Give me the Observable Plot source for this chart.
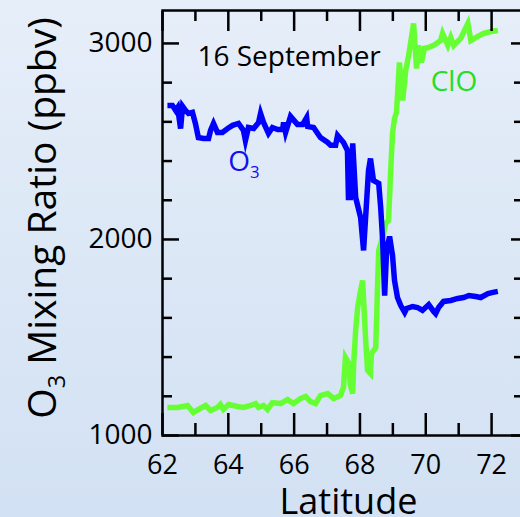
<!DOCTYPE html>
<html><head><meta charset="utf-8">
<script src="https://cdn.jsdelivr.net/npm/d3@7"></script>
<script src="https://cdn.jsdelivr.net/npm/@observablehq/plot@0.6"></script>
<style>
html,body{margin:0;padding:0;}
body{width:520px;height:517px;overflow:hidden;background:linear-gradient(to bottom,#e6eef9,#d2e1f3);font-family:"Open Sans",sans-serif;}
#chart svg{display:block;}
</style></head><body><div id="chart"></div>
<script>
// O3 mixing ratio (ppbv) vs latitude
const o3Lat = [
  62.15,62.30,62.40,62.46,62.55,62.61,62.70,62.79,62.91,63.00,
  63.09,63.25,63.40,63.46,63.55,63.67,63.82,63.98,64.13,64.31,
  64.46,64.52,64.61,64.77,64.92,64.98,65.07,65.22,65.34,65.50,
  65.65,65.68,65.74,65.89,66.10,66.26,66.38,66.41,66.59,66.80,
  67.02,67.11,67.26,67.32,67.50,67.62,67.65,67.71,67.78,67.87,
  68.02,68.11,68.26,68.32,68.41,68.57,68.63,68.69,68.75,68.81,
  68.90,68.99,69.05,69.14,69.24,69.36,69.42,69.60,69.75,69.90,
  70.09,70.24,70.30,70.39,70.54,70.76,70.97,71.15,71.31,71.52,
  71.67,71.89,72.04,72.19];
const o3Val = [
  2684,2684,2658,2673,2566,2679,2658,2643,2648,2592,
  2520,2515,2515,2556,2592,2546,2546,2566,2582,2592,
  2556,2505,2571,2566,2597,2643,2597,2541,2571,2561,
  2561,2597,2546,2628,2587,2587,2622,2577,2571,2520,
  2495,2480,2480,2531,2495,2454,2214,2214,2490,2214,
  2112,1944,2352,2413,2301,2286,2163,1995,1714,1944,
  2015,1918,1791,1704,1663,1628,1648,1658,1653,1638,
  1668,1633,1622,1653,1684,1689,1699,1704,1714,1709,
  1704,1724,1730,1735];
// ClO (same vertical scale) vs latitude
const cloLat = [
  62.15,62.46,62.76,62.94,63.09,63.31,63.46,63.67,63.76,63.85,
  64.01,64.28,64.46,64.68,64.83,64.92,65.07,65.19,65.34,65.59,
  65.80,65.98,66.20,66.35,66.50,66.65,66.80,67.02,67.20,67.41,
  67.50,67.56,67.65,67.71,67.78,67.81,67.87,67.93,68.02,68.08,
  68.17,68.23,68.32,68.35,68.48,68.54,68.57,68.72,68.78,68.87,
  68.93,68.99,69.05,69.11,69.20,69.30,69.39,69.48,69.63,69.72,
  69.78,69.87,69.96,70.09,70.24,70.45,70.51,70.67,70.76,70.85,
  71.06,71.28,71.37,71.58,71.76,71.98,72.19];
const cloVal = [
  1143,1143,1153,1117,1133,1153,1128,1143,1158,1133,
  1158,1148,1143,1153,1163,1143,1153,1133,1168,1163,
  1184,1163,1189,1199,1173,1163,1204,1214,1189,1204,
  1245,1398,1372,1255,1214,1367,1536,1653,1740,1791,
  1500,1332,1316,1418,1449,1791,1944,2031,2082,2097,
  2337,2541,2617,2648,2903,2709,2862,2939,3102,2872,
  2990,2903,2975,2980,2990,3015,3051,2990,3031,2990,
  3026,3102,3015,3036,3051,3061,3066];

const yTicks = [1000, 2000, 3000];
const yMinorTicks = [1200, 1400, 1600, 1800, 2200, 2400, 2600, 2800];
const xTicks = [62, 64, 66, 68, 70, 72];
const xMinorTicks = [63, 65, 67, 69, 71];

const annotLabels = ["16 September", "ClO", "O3"];
const annotLat = [63.06, 70.15, 64.0];
const annotVal = [2929, 2801, 2393];
const annotColors = ["#000000", "#22e022", "#1010f0"];

const yLabel = "O3 Mixing Ratio (ppbv)";
const xLabel = "Latitude";

const o3Idx = d3.range(o3Lat.length);
const cloIdx = d3.range(cloLat.length);
const annIdx = d3.range(annotLabels.length);

const svg = Plot.plot({
  width: 520,
  height: 517,
  marginLeft: 162,
  marginRight: -4,
  marginTop: 10,
  marginBottom: 82,
  style: {fontFamily: "Open Sans, sans-serif", background: "transparent", color: "black"},
  x: {domain: [62, 73]},
  y: {domain: [1000, 3168]},
  marks: [
    Plot.line(cloIdx, {x: i => cloLat[i], y: i => cloVal[i], stroke: "#66ff33", strokeWidth: 5.5, strokeLinejoin: "miter", strokeMiterlimit: 5, strokeLinecap: "butt"}),
    Plot.line(o3Idx, {x: i => o3Lat[i], y: i => o3Val[i], stroke: "#0000ff", strokeWidth: 5.5, strokeLinejoin: "miter", strokeMiterlimit: 5, strokeLinecap: "butt"}),
    // tick labels
    Plot.axisY(yTicks, {anchor: "left", tickSize: 0, tickPadding: 10, fontSize: 28, tickFormat: "d", label: null}),
    Plot.axisX(xTicks, {anchor: "bottom", tickSize: 0, tickPadding: 19, fontSize: 27, tickFormat: "d", label: null}),
    // inward ticks
    Plot.axisY(yTicks, {anchor: "left", tickSize: -17, strokeWidth: 2.5, fill: "none"}),
    Plot.axisY(yMinorTicks, {anchor: "left", tickSize: -10, strokeWidth: 2.5, fill: "none"}),
    Plot.axisY(yTicks, {anchor: "right", tickSize: -14, strokeWidth: 2.5, fill: "none"}),
    Plot.axisY(yMinorTicks, {anchor: "right", tickSize: -11, strokeWidth: 2.5, fill: "none"}),
    Plot.axisX(xTicks, {anchor: "bottom", tickSize: -22, strokeWidth: 2.5, fill: "none"}),
    Plot.axisX(xMinorTicks, {anchor: "bottom", tickSize: -12, strokeWidth: 2.5, fill: "none"}),
    Plot.axisX(xTicks, {anchor: "top", tickSize: -20, strokeWidth: 2.5, fill: "none"}),
    Plot.axisX(xMinorTicks, {anchor: "top", tickSize: -10, strokeWidth: 2.5, fill: "none"}),
    Plot.frame({stroke: "black", strokeWidth: 2.5}),
    // annotations
    Plot.text(annIdx, {x: i => annotLat[i], y: i => annotVal[i], text: i => annotLabels[i], fill: i => annotColors[i], textAnchor: "start", fontSize: 28}),
    // axis titles
    Plot.text([yLabel], {frameAnchor: "left", textAnchor: "middle", lineAnchor: "middle", dx: -119, dy: -5, rotate: -90, fontSize: 39, fill: "black"}),
    Plot.text([xLabel], {frameAnchor: "bottom", textAnchor: "middle", lineAnchor: "middle", dx: 5, dy: 67, fontSize: 36, fill: "black"})
  ]
});
document.getElementById("chart").appendChild(svg);

// subscript the 3 of O3
d3.select(svg).selectAll("text").each(function() {
  const t = this.textContent;
  if (t.startsWith("O3")) {
    const fs = parseFloat(getComputedStyle(this).fontSize) || 24;
    const rest = t.slice(2);
    const sel = d3.select(this);
    sel.text(null);
    sel.append("tspan").text("O");
    sel.append("tspan").attr("font-size", (fs * 0.6) + "px").attr("dy", (fs * 0.22) + "px").text("3");
    if (rest) sel.append("tspan").attr("dy", (-fs * 0.22) + "px").text(rest);
  }
});
</script>
</body></html>
